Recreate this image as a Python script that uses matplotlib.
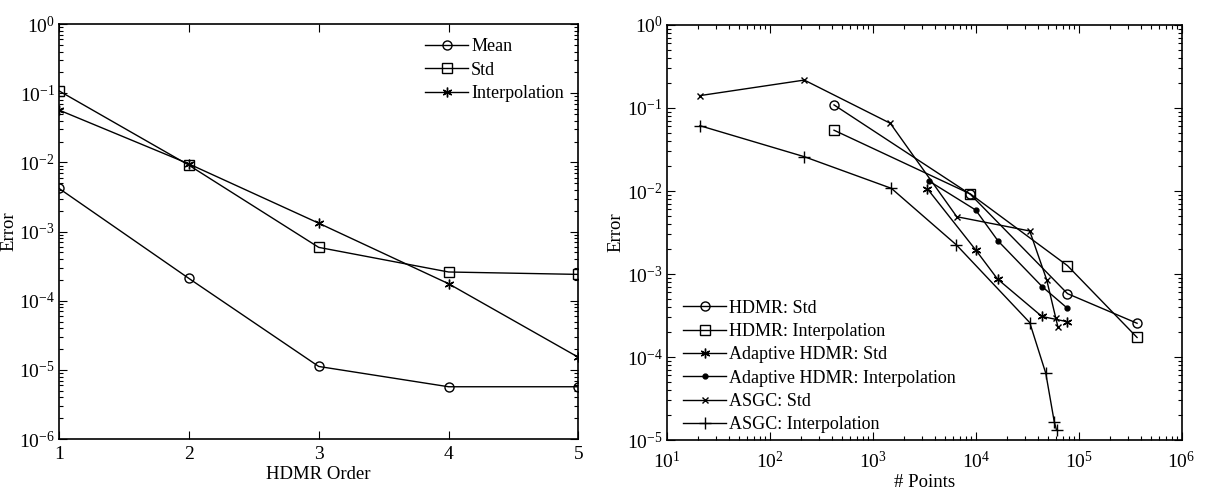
import numpy as np
import matplotlib
matplotlib.use("Agg")
import matplotlib.pyplot as plt
from matplotlib.ticker import LogLocator, NullFormatter

plt.rcParams['font.family'] = ['Liberation Serif', 'DejaVu Serif']
plt.rcParams['mathtext.fontset'] = 'stix'
plt.rcParams['font.size'] = 14

# left panel: error vs HDMR order
order = [1, 2, 3, 4, 5]
mean_err = [4.2e-3, 2.1e-4, 1.12e-5, 5.7e-6, 5.7e-6]
std_err = [0.108, 9.1e-3, 5.9e-4, 2.6e-4, 2.4e-4]
interp_err = [0.057, 9.5e-3, 1.32e-3, 1.76e-4, 1.52e-5]

# right panel: error vs number of points
hdmr_pts = [420, 8900, 7.8e4, 3.7e5]
hdmr_std = [0.109, 9.1e-3, 5.8e-4, 2.55e-4]
hdmr_interp = [0.054, 9.2e-3, 1.26e-3, 1.72e-4]

ahdmr_std_pts = [3400, 1.0e4, 1.63e4, 4.4e4, 7.8e4]
ahdmr_std = [0.0106, 1.95e-3, 8.7e-4, 3.08e-4, 2.66e-4]
ahdmr_int_pts = [3480, 1.0e4, 1.65e4, 4.45e4, 7.8e4]
ahdmr_int = [0.0133, 5.9e-3, 2.5e-3, 7.0e-4, 3.86e-4]

asgc_std_pts = [20.9, 216, 1480, 6550, 3.35e4, 4.9e4, 6.0e4, 6.3e4]
asgc_std = [0.141, 0.217, 0.0654, 4.9e-3, 3.3e-3, 8.5e-4, 2.95e-4, 2.3e-4]
asgc_int_pts = [20.9, 216, 1517, 6500, 3.35e4, 4.8e4, 5.8e4, 6.1e4]
asgc_int = [0.0612, 0.0259, 0.01076, 2.24e-3, 2.6e-4, 6.36e-5, 1.66e-5, 1.32e-5]

fig = plt.figure(figsize=(12.05, 4.9), dpi=100)
ax1 = fig.add_axes([0.049, 0.104, 0.431, 0.847])
ax2 = fig.add_axes([0.5535, 0.102, 0.427, 0.847])

asterisk = (6, 2, 0)
lw = 1.0
leg_kw = dict(frameon=False, fontsize=13, handlelength=2.4, handletextpad=0.15,
              labelspacing=0.35)


def style(ax, xpad):
    ax.tick_params(which='both', direction='in', top=True, right=True, labelsize=14)
    ax.tick_params(axis='y', pad=3)
    ax.tick_params(axis='x', pad=xpad)
    ax.tick_params(which='major', length=6, width=0.8)
    ax.tick_params(which='minor', length=3, width=0.8)
    for s in ax.spines.values():
        s.set_linewidth(1.2)
    ax.yaxis.set_minor_locator(LogLocator(base=10, subs=np.arange(2, 10), numticks=20))
    ax.yaxis.set_minor_formatter(NullFormatter())


ax1.semilogy(order, mean_err, '-', color='k', lw=lw, marker='o', mfc='none', ms=6.5, label='Mean')
ax1.semilogy(order, std_err, '-', color='k', lw=lw, marker='s', mfc='none', ms=6.5, label='Std')
ax1.semilogy(order, interp_err, '-', color='k', lw=lw, marker=asterisk, ms=7, label='Interpolation')
ax1.set_xlim(1, 5)
ax1.set_ylim(1e-6, 1)
ax1.set_xticks(order)
ax1.yaxis.set_major_locator(LogLocator(base=10, numticks=10))
style(ax1, 5)
ax1.set_xlabel('HDMR Order', fontsize=13.5, labelpad=2)
ax1.set_ylabel('Error', fontsize=13.5)
ax1.yaxis.set_label_coords(-0.081, 0.5)
ax1.legend(loc='upper right', borderaxespad=0.4, **leg_kw)

ax2.loglog(hdmr_pts, hdmr_std, '-', color='k', lw=lw, marker='o', mfc='none', ms=6.5, label='HDMR: Std')
ax2.loglog(hdmr_pts, hdmr_interp, '-', color='k', lw=lw, marker='s', mfc='none', ms=6.5, label='HDMR: Interpolation')
ax2.loglog(ahdmr_std_pts, ahdmr_std, '-', color='k', lw=lw, marker=asterisk, ms=7, label='Adaptive HDMR: Std')
ax2.loglog(ahdmr_int_pts, ahdmr_int, '-', color='k', lw=lw, marker='o', ms=3.5, label='Adaptive HDMR: Interpolation')
ax2.loglog(asgc_std_pts, asgc_std, '-', color='k', lw=lw, marker='x', ms=4.5, label='ASGC: Std')
ax2.loglog(asgc_int_pts, asgc_int, '-', color='k', lw=lw, marker='+', ms=8, label='ASGC: Interpolation')
ax2.set_xlim(10, 1e6)
ax2.set_ylim(1e-5, 1)
ax2.xaxis.set_major_locator(LogLocator(base=10, numticks=10))
ax2.xaxis.set_minor_locator(LogLocator(base=10, subs=np.arange(2, 10), numticks=20))
ax2.xaxis.set_minor_formatter(NullFormatter())
ax2.yaxis.set_major_locator(LogLocator(base=10, numticks=10))
style(ax2, 8)
ax2.set_xlabel('# Points', fontsize=13.5, labelpad=1)
ax2.set_ylabel('Error', fontsize=13.5)
ax2.yaxis.set_label_coords(-0.082, 0.5)
ax2.legend(loc='lower left', bbox_to_anchor=(0.01, -0.01), borderaxespad=0.2, **leg_kw)

fig.savefig('out.png', dpi=100)
